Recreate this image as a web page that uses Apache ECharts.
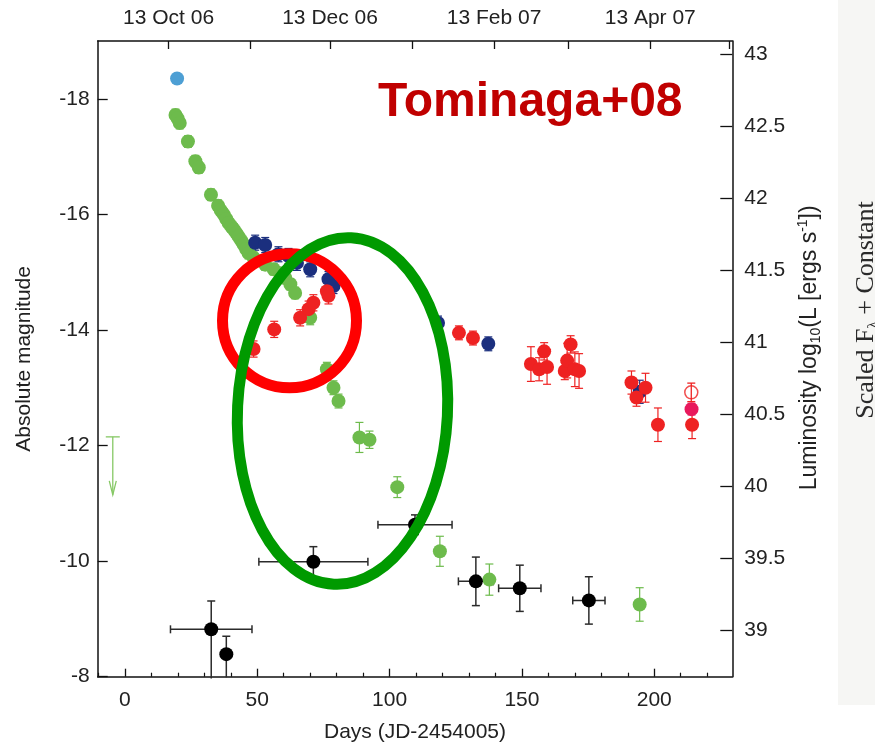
<!DOCTYPE html>
<html><head><meta charset="utf-8">
<script src="https://cdn.jsdelivr.net/npm/echarts@6/dist/echarts.min.js"></script>
<style>html,body{margin:0;padding:0;background:#fff}#c{width:875px;height:742px}</style>
</head><body><div id="c"></div>
<script>
// ---- axis ticks / labels ----
const xTicks = [0, 50, 100, 150, 200];
const xMinorTicks = [-10, 10, 20, 30, 40, 60, 70, 80, 90, 110, 120, 130, 140, 160, 170, 180, 190, 210, 220];
const magTicks = [-18, -16, -14, -12, -10, -8];
const lumTicks = [39, 39.5, 40, 40.5, 41, 41.5, 42, 42.5, 43];
const dateTickDays = [16.5, 47.5, 77.5, 108.5, 139.5, 167.5, 198.5, 228.5];
const dateLabelDays = [16.5, 77.5, 139.5, 198.5];
const dateLabels = ['13 Oct 06', '13 Dec 06', '13 Feb 07', '13 Apr 07'];

// ---- data: [day, magnitude, error] ----
const cyanPts = [[19.7, -18.35, 0.08]];
const greenPts = [
  [19.1, -17.72, 0.1], [19.9, -17.66, 0.1], [20.7, -17.58, 0.1], [23.8, -17.26, 0.1],
  [26.6, -16.92, 0.1], [27.9, -16.81, 0.1], [32.5, -16.34, 0.1], [35.2, -16.15, 0.1],
  [36.2, -16.07, 0.1], [37.3, -16.00, 0.1], [38.3, -15.92, 0.1], [39.2, -15.85, 0.1],
  [40.2, -15.79, 0.1], [41.1, -15.74, 0.1], [42.0, -15.68, 0.1], [42.9, -15.62, 0.1],
  [43.9, -15.55, 0.1], [44.8, -15.48, 0.1], [45.8, -15.40, 0.1], [46.7, -15.33, 0.1],
  [48.6, -15.25, 0.1], [53.0, -15.13, 0.1], [56.2, -15.05, 0.1], [58.6, -14.98, 0.1],
  [60.6, -14.90, 0.1], [62.5, -14.79, 0.1], [64.3, -14.64, 0.1], [70.0, -14.21, 0.12],
  [76.3, -13.32, 0.12], [78.8, -13.00, 0.12], [80.7, -12.77, 0.12], [88.6, -12.14, 0.26],
  [92.4, -12.10, 0.15], [102.9, -11.28, 0.18], [119.0, -10.17, 0.26], [137.7, -9.68, 0.27],
  [194.5, -9.25, 0.29]
];
const bluePts = [
  [49.2, -15.51, 0.13], [53.0, -15.47, 0.13], [58.0, -15.31, 0.13], [61.8, -15.28, 0.13],
  [65.0, -15.16, 0.13], [70.0, -15.05, 0.13], [76.9, -14.88, 0.13], [78.8, -14.76, 0.13],
  [118.3, -14.12, 0.12], [137.3, -13.76, 0.12], [194.5, -12.93, 0.2]
];
const redPts = [
  [48.6, -13.67, 0.14], [56.4, -14.01, 0.14], [66.2, -14.21, 0.14], [69.4, -14.36, 0.14],
  [71.2, -14.47, 0.14], [76.3, -14.67, 0.14], [76.9, -14.59, 0.14], [126.2, -13.95, 0.12],
  [131.5, -13.86, 0.12], [153.4, -13.41, 0.3], [156.5, -13.32, 0.2], [158.4, -13.63, 0.15],
  [159.5, -13.36, 0.3], [166.2, -13.29, 0.15], [167.1, -13.47, 0.3], [168.4, -13.75, 0.15],
  [170.0, -13.32, 0.3], [171.6, -13.29, 0.3], [191.4, -13.09, 0.2], [193.3, -12.83, 0.15],
  [196.7, -13.00, 0.25], [201.4, -12.36, 0.29], [214.3, -12.36, 0.24]
];
const pinkPts = [[214.1, -12.63, 0.1]];
const openRedPts = [[214.0, -12.92, 0.16]];
// [day, magnitude, day error, mag error up, mag error down]
const blackPts = [
  [32.6, -8.82, 15.4, 0.49, 0.85], [38.3, -8.39, 0, 0.31, 0.4], [71.2, -9.99, 20.6, 0.26, 0.26],
  [109.6, -10.63, 14, 0.17, 0.17], [132.6, -9.65, 6.6, 0.42, 0.42], [149.2, -9.53, 8, 0.40, 0.40],
  [175.3, -9.32, 6.1, 0.41, 0.41]
];
// upper limit [day, magnitude]
const limitPts = [[-4.6, -12.15]];

const FONT = '"Liberation Sans", Arial, Helvetica, sans-serif';
const FS = 21;
const chart = echarts.init(document.getElementById('c'), null, {renderer: 'canvas'});

function errSeries(data, color, lw, z) {
  return {
    type: 'custom', xAxisIndex: 0, yAxisIndex: 0, z: z || 2, silent: true,
    data: data,
    renderItem: function (params, api) {
      const x = api.value(0), y = api.value(1), e = api.value(2);
      const p = api.coord([x, y]);
      const t = api.coord([x, y - e]);
      const b = api.coord([x, y + e]);
      const cw = 4;
      const st = {stroke: color, lineWidth: lw || 1.2};
      return {type: 'group', children: [
        {type: 'line', shape: {x1: p[0], y1: t[1], x2: p[0], y2: b[1]}, style: st},
        {type: 'line', shape: {x1: p[0] - cw, y1: t[1], x2: p[0] + cw, y2: t[1]}, style: st},
        {type: 'line', shape: {x1: p[0] - cw, y1: b[1], x2: p[0] + cw, y2: b[1]}, style: st}
      ]};
    }
  };
}
function blackErrSeries(data) {
  return {
    type: 'custom', xAxisIndex: 0, yAxisIndex: 0, z: 2, silent: true,
    data: data,
    renderItem: function (params, api) {
      const x = api.value(0), y = api.value(1), ex = api.value(2), eu = api.value(3), ed = api.value(4);
      const p = api.coord([x, y]);
      const t = api.coord([x, y - eu]);
      const b = api.coord([x, y + ed]);
      const l = api.coord([x - ex, y]);
      const r = api.coord([x + ex, y]);
      const cw = 4;
      const st = {stroke: '#2b2b2b', lineWidth: 1.5};
      const ch = [
        {type: 'line', shape: {x1: p[0], y1: t[1], x2: p[0], y2: b[1]}, style: st},
        {type: 'line', shape: {x1: p[0] - cw, y1: t[1], x2: p[0] + cw, y2: t[1]}, style: st}
      ];
      if (b[1] < 670) ch.push({type: 'line', shape: {x1: p[0] - cw, y1: b[1], x2: p[0] + cw, y2: b[1]}, style: st});
      if (ex > 0) {
        ch.push({type: 'line', shape: {x1: l[0], y1: p[1], x2: r[0], y2: p[1]}, style: st});
        ch.push({type: 'line', shape: {x1: l[0], y1: p[1] - cw, x2: l[0], y2: p[1] + cw}, style: st});
        ch.push({type: 'line', shape: {x1: r[0], y1: p[1] - cw, x2: r[0], y2: p[1] + cw}, style: st});
      }
      return {type: 'group', children: ch};
    }
  };
}
function scat(data, color, extra) {
  return Object.assign({
    type: 'scatter', xAxisIndex: 0, yAxisIndex: 0, z: 3, silent: true,
    symbol: 'circle', symbolSize: 14,
    data: data.map(d => [d[0], d[1]]),
    itemStyle: {color: color, opacity: 1}
  }, extra || {});
}

const option = {
  animation: false,
  backgroundColor: '#ffffff',
  grid: {left: 97.7, right: 142.7, top: 41, bottom: 65.3, containLabel: false, outerBoundsMode: 'none'},
  xAxis: [
    {
      type: 'value', position: 'bottom', min: -10.3, max: 229.5,
      axisLine: {show: true, onZero: false, lineStyle: {color: '#111', width: 1.5}},
      axisTick: {show: true, inside: true, length: 8, customValues: xTicks, lineStyle: {color: '#111', width: 1.3}},
      axisLabel: {show: true, customValues: xTicks, fontSize: FS, fontFamily: FONT, color: '#222', margin: 13},
      splitLine: {show: false},
      name: 'Days (JD-2454005)', nameLocation: 'middle', nameGap: 45,
      nameTextStyle: {fontSize: FS, fontFamily: FONT, color: '#222'}
    },
    {
      type: 'value', position: 'bottom', min: -10.3, max: 229.5,
      axisLine: {show: false, onZero: false},
      axisTick: {show: true, inside: true, length: 4, customValues: xMinorTicks, lineStyle: {color: '#111', width: 1.2}},
      axisLabel: {show: false}, splitLine: {show: false}
    },
    {
      type: 'value', position: 'top', min: -10.3, max: 229.5,
      axisLine: {show: true, onZero: false, lineStyle: {color: '#111', width: 1.5}},
      axisTick: {show: true, inside: true, length: 8, customValues: dateTickDays, lineStyle: {color: '#111', width: 1.3}},
      axisLabel: {
        show: true, customValues: dateLabelDays, fontSize: FS, fontFamily: FONT, color: '#222', margin: 12,
        formatter: function (v) { const i = dateLabelDays.indexOf(v); return i >= 0 ? dateLabels[i] : ''; }
      },
      splitLine: {show: false}
    }
  ],
  yAxis: [
    {
      type: 'value', position: 'left', inverse: true, min: -19, max: -8,
      axisLine: {show: true, onZero: false, lineStyle: {color: '#111', width: 1.5}},
      axisTick: {show: true, inside: true, length: 10, customValues: magTicks, lineStyle: {color: '#111', width: 1.3}},
      axisLabel: {show: true, customValues: magTicks, fontSize: FS, fontFamily: FONT, color: '#222', margin: 8},
      splitLine: {show: false},
      name: 'Absolute magnitude', nameLocation: 'middle', nameRotate: 90, nameGap: 63,
      nameTextStyle: {fontSize: FS, fontFamily: FONT, color: '#222'}
    },
    {
      type: 'value', position: 'right', min: 38.68, max: 43.09,
      axisLine: {show: true, onZero: false, lineStyle: {color: '#111', width: 1.5}},
      axisTick: {show: true, inside: true, length: 12, customValues: lumTicks, lineStyle: {color: '#111', width: 1.3}},
      axisLabel: {show: true, customValues: lumTicks, fontSize: FS, fontFamily: FONT, color: '#222', margin: 12},
      splitLine: {show: false},
      name: '{n|Luminosity log}{sub|10}{n|(L [ergs s}{sup|-1}{n|])}',
      nameLocation: 'middle', nameRotate: 90, nameGap: 50,
      nameTextStyle: {
        fontSize: 23, fontFamily: FONT, color: '#222', padding: [0, 0, 0, 22],
        rich: {
          n: {fontSize: 23, fontFamily: FONT, color: '#222'},
          sub: {fontSize: 14, fontFamily: FONT, color: '#222', padding: [13, 0, 0, 0]},
          sup: {fontSize: 14, fontFamily: FONT, color: '#222', padding: [0, 0, 13, 0]}
        }
      }
    }
  ],
  series: [
    errSeries(greenPts, '#6dbb4c'),
    errSeries(bluePts, '#1b2f7e'),
    errSeries(redPts, '#ee2222'),
    errSeries(cyanPts, '#4d9fd4'),
    errSeries(pinkPts, '#e8195c'),
    blackErrSeries(blackPts),
    {
      type: 'custom', xAxisIndex: 0, yAxisIndex: 0, z: 2, silent: true, data: limitPts,
      renderItem: function (params, api) {
        const p = api.coord([api.value(0), api.value(1)]);
        const st = {stroke: '#86c865', lineWidth: 1.3};
        const L = 58;
        return {type: 'group', children: [
          {type: 'line', shape: {x1: p[0] - 7, y1: p[1], x2: p[0] + 7, y2: p[1]}, style: st},
          {type: 'line', shape: {x1: p[0], y1: p[1], x2: p[0], y2: p[1] + L}, style: st},
          {type: 'polyline', shape: {points: [[p[0] - 3.5, p[1] + L - 14], [p[0], p[1] + L], [p[0] + 3.5, p[1] + L - 14]]}, style: Object.assign({fill: 'none'}, st)}
        ]};
      }
    },
    scat(greenPts, '#6dbb4c'),
    scat(bluePts, '#1b2f7e'),
    scat(redPts, '#ee2222'),
    scat(cyanPts, '#4d9fd4'),
    scat(pinkPts, '#e8195c'),
    scat(openRedPts, '#ffffff', {itemStyle: {color: '#ffffff', borderColor: '#ee2222', borderWidth: 1.5}, symbolSize: 13}),
    errSeries(openRedPts, '#ee2222', 1.3, 4),
    scat(blackPts, '#000000')
  ],
  graphic: [
    {type: 'rect', shape: {x: 838, y: 0, width: 37, height: 705}, style: {fill: '#f6f6f4'}, z: 0, silent: true},
    {
      type: 'text', x: 866, y: 310, rotation: Math.PI / 2, z: 5, silent: true,
      style: {
        text: 'Scaled F{s|λ} + Constant', align: 'center', verticalAlign: 'middle',
        font: '26px "Liberation Serif", "Times New Roman", serif', fill: '#2a2a2a',
        rich: {s: {fontSize: 15, fontFamily: '"Liberation Serif", serif', fill: '#2a2a2a', padding: [14, 0, 0, 0]}}
      }
    },
    {
      type: 'text', x: 378, y: 103, z: 50, silent: true,
      style: {text: 'Tominaga+08', align: 'left', verticalAlign: 'middle',
        font: 'bold 48px "Liberation Sans", Arial, sans-serif', fill: '#c00000'}
    },
    {
      type: 'circle', z: 60, silent: true,
      shape: {cx: 289.5, cy: 320.8, r: 67},
      style: {fill: 'none', stroke: '#ff0000', lineWidth: 11}
    },
    {
      type: 'ellipse', z: 61, silent: true,
      x: 342.5, y: 411, rotation: -0.05,
      shape: {cx: 0, cy: 0, rx: 105, ry: 173.5},
      style: {fill: 'none', stroke: '#009a00', lineWidth: 11}
    }
  ]
};
chart.setOption(option);
</script>
</body></html>
